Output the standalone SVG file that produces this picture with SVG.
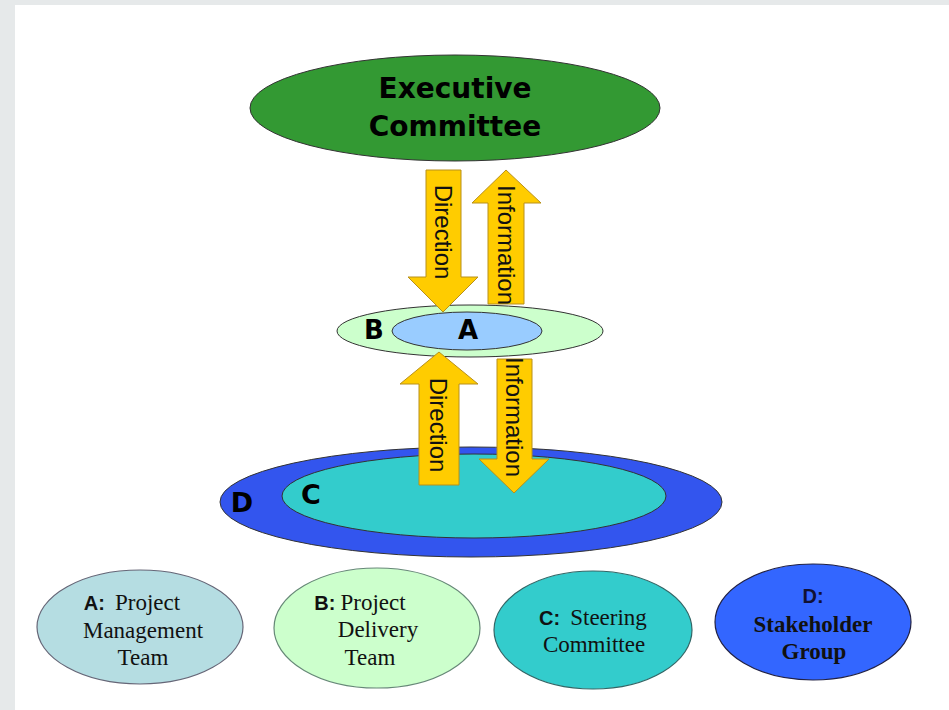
<svg xmlns="http://www.w3.org/2000/svg" width="949" height="710" viewBox="0 0 949 710">
<style>
.arrow{fill:#ffcc00;stroke:#b8901a;stroke-width:1}
.atext{font-family:"Liberation Sans",Arial,sans-serif;font-size:24px;fill:#111}
.big{font-family:"DejaVu Sans",Verdana,sans-serif;font-weight:bold;fill:#000}
.leg{font-family:"Liberation Serif","Times New Roman",serif;font-size:23px;fill:#111}
.lb{font-family:"Liberation Sans",Arial,sans-serif;font-weight:bold;font-size:20px}
.ell{stroke:#333;stroke-width:1}
</style>
<rect x="0" y="0" width="949" height="710" fill="#e6e9ea"/>
<rect x="15" y="5" width="934" height="705" fill="#ffffff"/>
<g id="executive-committee">
<ellipse class="ell" cx="455" cy="108" rx="205" ry="53" fill="#339933"/>
<text class="big" font-size="28" x="455" y="98" text-anchor="middle">Executive</text>
<text class="big" font-size="28" x="455" y="136" text-anchor="middle">Committee</text>
</g>
<g id="stakeholder-ring-D">
<ellipse class="ell" cx="471" cy="502" rx="251" ry="55" fill="#3355ee"/>
<text class="big" font-size="27" x="242" y="512" text-anchor="middle">D</text>
</g>
<g id="steering-ring-C">
<ellipse class="ell" cx="474" cy="496" rx="192" ry="42" fill="#33cccc"/>
<text class="big" font-size="27" x="311" y="504" text-anchor="middle">C</text>
</g>
<g id="delivery-ring-B">
<ellipse class="ell" cx="470" cy="331" rx="133" ry="26" fill="#ccffcc"/>
<text class="big" font-size="26" x="374" y="339" text-anchor="middle">B</text>
</g>
<g id="management-core-A">
<ellipse class="ell" cx="467" cy="331" rx="75" ry="19" fill="#99ccff"/>
<text class="big" font-size="26" x="468" y="339" text-anchor="middle">A</text>
</g>
<g id="connectors">
<g id="top-direction">
<polygon class="arrow" points="426,170 461,170 461,277 478,277 443,312 408,277 426,277"/>
<text class="atext" transform="rotate(90 435 232)" x="435" y="232" text-anchor="middle">Direction</text>
</g>
<g id="top-information">
<polygon class="arrow" points="488,304 524,304 524,203 541,203 506,170 472,203 488,203"/>
<text class="atext" transform="rotate(90 498 245)" x="498" y="245" text-anchor="middle">Information</text>
</g>
<g id="bottom-direction">
<polygon class="arrow" points="419,485 459,485 459,384 478,384 439,352 400,384 419,384"/>
<text class="atext" transform="rotate(90 430 425)" x="430" y="425" text-anchor="middle">Direction</text>
</g>
<g id="bottom-information">
<polygon class="arrow" points="497,359 532,359 532,459 549,459 514,493 479,459 497,459"/>
<text class="atext" transform="rotate(90 506 417)" x="506" y="417" text-anchor="middle">Information</text>
</g>
</g>
<g id="legend-A">
<ellipse cx="140" cy="627" rx="103" ry="57" fill="#b5dde2" stroke="#667" stroke-width="1.2"/>
<text class="leg" x="132" y="610" text-anchor="middle"><tspan class="lb">A:</tspan><tspan dx="10">Project</tspan></text>
<text class="leg" x="143" y="638" text-anchor="middle">Management</text>
<text class="leg" x="143" y="665" text-anchor="middle">Team</text>
</g>
<g id="legend-B">
<ellipse cx="377" cy="628" rx="103" ry="60" fill="#ccffcc" stroke="#687" stroke-width="1.2"/>
<text class="leg" x="360" y="610" text-anchor="middle"><tspan class="lb">B:</tspan><tspan dx="5">Project</tspan></text>
<text class="leg" x="378" y="637" text-anchor="middle">Delivery</text>
<text class="leg" x="370" y="665" text-anchor="middle">Team</text>
</g>
<g id="legend-C">
<ellipse cx="593" cy="630" rx="99" ry="59" fill="#33cccc" stroke="#366" stroke-width="1.2"/>
<text class="leg" x="593" y="625" text-anchor="middle"><tspan class="lb">C:</tspan><tspan dx="10">Steering</tspan></text>
<text class="leg" x="594" y="652" text-anchor="middle">Committee</text>
</g>
<g id="legend-D">
<ellipse cx="813" cy="622" rx="98" ry="58" fill="#3366ff" stroke="#224" stroke-width="1.2"/>
<text class="lb" x="813" y="603" text-anchor="middle" fill="#111133">D:</text>
<text class="leg" x="813" y="632" text-anchor="middle" font-weight="bold" fill="#111133">Stakeholder</text>
<text class="leg" x="814" y="659" text-anchor="middle" font-weight="bold" fill="#111133">Group</text>
</g>
</svg>
